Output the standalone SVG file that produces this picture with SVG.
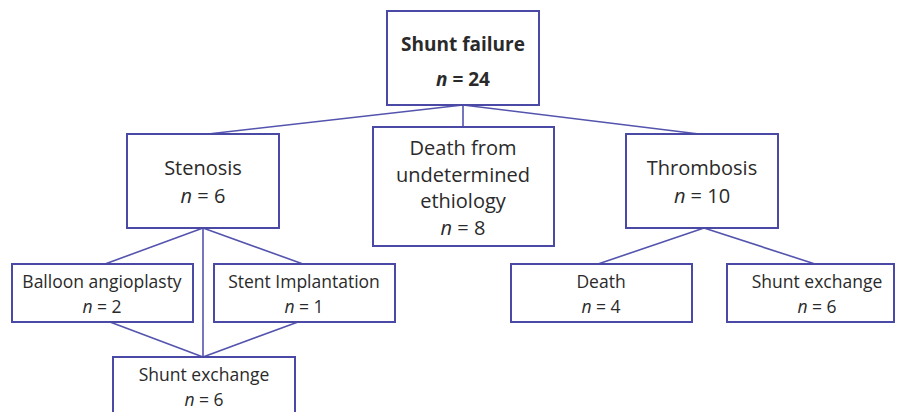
<svg xmlns="http://www.w3.org/2000/svg" width="897" height="412" viewBox="0 0 897 412">
<style>
.box{fill:#fff;stroke:#4a4aa6;stroke-width:2}
.ln{stroke:#5454ae;stroke-width:1.6;fill:none}
text{font-family:"Open Sans","Liberation Sans",sans-serif;fill:#2a2a2a;text-anchor:middle}
.t1{font-size:19px;font-weight:bold}
.t2{font-size:20px}
.t3{font-size:17.5px}
.i{font-style:italic}
</style>
<rect width="897" height="412" fill="#fff"/>
<g id="connectors">
<line class="ln" x1="463" y1="105" x2="208" y2="134"/>
<line class="ln" x1="463" y1="105" x2="463" y2="127"/>
<line class="ln" x1="463" y1="105" x2="699" y2="134"/>
<line class="ln" x1="203" y1="228" x2="105" y2="264"/>
<line class="ln" x1="203" y1="228" x2="203" y2="357"/>
<line class="ln" x1="203" y1="228" x2="303" y2="264"/>
<line class="ln" x1="110" y1="322" x2="203" y2="357"/>
<line class="ln" x1="298" y1="322" x2="203" y2="357"/>
<line class="ln" x1="704" y1="228" x2="598" y2="264"/>
<line class="ln" x1="704" y1="228" x2="815" y2="264"/>
</g>
<g id="shunt-failure">
<rect class="box" x="387" y="11" width="152" height="94"/>
<text class="t1" x="463" y="51">Shunt failure</text>
<text class="t1" x="463" y="86"><tspan class="i">n</tspan> = 24</text>
</g>
<g id="stenosis">
<rect class="box" x="127" y="134" width="152" height="94"/>
<text class="t2" x="203" y="175">Stenosis</text>
<text class="t2" x="203" y="203"><tspan class="i">n</tspan> = 6</text>
</g>
<g id="death-undetermined">
<rect class="box" x="373" y="127" width="181" height="119"/>
<text class="t2" x="463" y="155">Death from</text>
<text class="t2" x="463" y="182">undetermined</text>
<text class="t2" x="463" y="208">ethiology</text>
<text class="t2" x="463" y="235"><tspan class="i">n</tspan> = 8</text>
</g>
<g id="thrombosis">
<rect class="box" x="626" y="134" width="152" height="94"/>
<text class="t2" x="702" y="175">Thrombosis</text>
<text class="t2" x="702" y="203"><tspan class="i">n</tspan> = 10</text>
</g>
<g id="balloon">
<rect class="box" x="12" y="264" width="181" height="58"/>
<text class="t3" x="102" y="288">Balloon angioplasty</text>
<text class="t3" x="102" y="313"><tspan class="i">n</tspan> = 2</text>
</g>
<g id="stent">
<rect class="box" x="214" y="264" width="181" height="58"/>
<text class="t3" x="304" y="288">Stent Implantation</text>
<text class="t3" x="304" y="313"><tspan class="i">n</tspan> = 1</text>
</g>
<g id="shunt-exchange-stenosis">
<rect class="box" x="113" y="357" width="182" height="70"/>
<text class="t3" x="204" y="381">Shunt exchange</text>
<text class="t3" x="204" y="406"><tspan class="i">n</tspan> = 6</text>
</g>
<g id="death">
<rect class="box" x="511" y="264" width="181" height="58"/>
<text class="t3" x="601" y="288">Death</text>
<text class="t3" x="601" y="313"><tspan class="i">n</tspan> = 4</text>
</g>
<g id="shunt-exchange-thrombosis">
<rect class="box" x="727" y="264" width="167" height="58"/>
<text class="t3" x="817" y="288">Shunt exchange</text>
<text class="t3" x="817" y="313"><tspan class="i">n</tspan> = 6</text>
</g>
</svg>
